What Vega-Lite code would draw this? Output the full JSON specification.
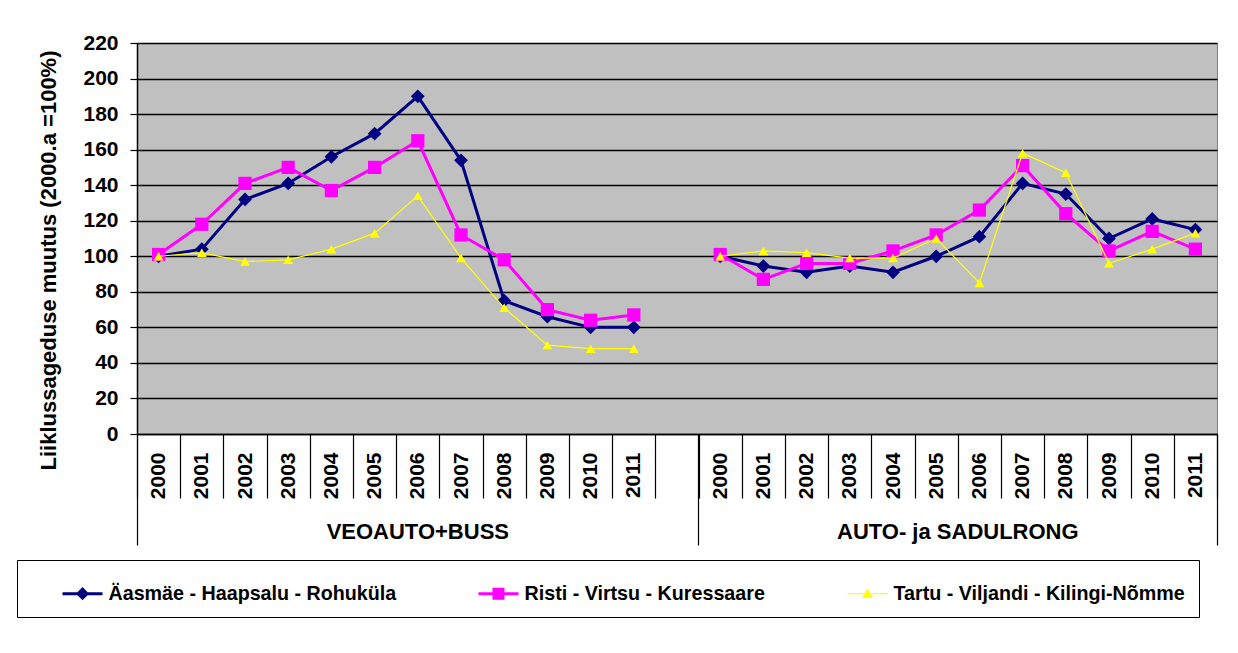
{
  "$schema": "https://vega.github.io/schema/vega-lite/v6.json",
  "width": 1080,
  "height": 391,
  "autosize": {"type": "none"},
  "padding": {"left": 137, "top": 43, "right": 21, "bottom": 219},
  "background": "white",
  "config": {
    "font": "Liberation Sans",
    "view": {"fill": "#C0C0C0", "stroke": "#808080", "strokeWidth": 1},
    "axis": {"labelFont": "Liberation Sans", "titleFont": "Liberation Sans", "labelColor": "black", "titleColor": "black", "labelFontWeight": "bold", "titleFontWeight": "bold"},
    "legend": {
      "title": null, "orient": "none", "legendX": -120, "legendY": 517,
      "direction": "horizontal", "columns": 3, "columnPadding": 50,
      "padding": 13.5, "strokeColor": "black", "strokeWidth": 1,
      "symbolSize": 1600, "symbolOffset": 32, "labelOffset": 6, "symbolStrokeWidth": 0, "symbolOpacity": 1,
      "labelFont": "Liberation Sans", "labelFontSize": 19.7, "labelFontWeight": "bold", "labelColor": "black", "labelLimit": 1000
    }
  },
  "data": {
    "values": [
      {"category": "VEOAUTO+BUSS|2000", "section": "VEOAUTO+BUSS", "route": "Äasmäe - Haapsalu - Rohuküla", "value": 100},
      {"category": "VEOAUTO+BUSS|2001", "section": "VEOAUTO+BUSS", "route": "Äasmäe - Haapsalu - Rohuküla", "value": 104},
      {"category": "VEOAUTO+BUSS|2002", "section": "VEOAUTO+BUSS", "route": "Äasmäe - Haapsalu - Rohuküla", "value": 132},
      {"category": "VEOAUTO+BUSS|2003", "section": "VEOAUTO+BUSS", "route": "Äasmäe - Haapsalu - Rohuküla", "value": 141},
      {"category": "VEOAUTO+BUSS|2004", "section": "VEOAUTO+BUSS", "route": "Äasmäe - Haapsalu - Rohuküla", "value": 156},
      {"category": "VEOAUTO+BUSS|2005", "section": "VEOAUTO+BUSS", "route": "Äasmäe - Haapsalu - Rohuküla", "value": 169},
      {"category": "VEOAUTO+BUSS|2006", "section": "VEOAUTO+BUSS", "route": "Äasmäe - Haapsalu - Rohuküla", "value": 190},
      {"category": "VEOAUTO+BUSS|2007", "section": "VEOAUTO+BUSS", "route": "Äasmäe - Haapsalu - Rohuküla", "value": 154},
      {"category": "VEOAUTO+BUSS|2008", "section": "VEOAUTO+BUSS", "route": "Äasmäe - Haapsalu - Rohuküla", "value": 75},
      {"category": "VEOAUTO+BUSS|2009", "section": "VEOAUTO+BUSS", "route": "Äasmäe - Haapsalu - Rohuküla", "value": 66},
      {"category": "VEOAUTO+BUSS|2010", "section": "VEOAUTO+BUSS", "route": "Äasmäe - Haapsalu - Rohuküla", "value": 60},
      {"category": "VEOAUTO+BUSS|2011", "section": "VEOAUTO+BUSS", "route": "Äasmäe - Haapsalu - Rohuküla", "value": 60},
      {"category": "AUTO- ja SADULRONG|2000", "section": "AUTO- ja SADULRONG", "route": "Äasmäe - Haapsalu - Rohuküla", "value": 100},
      {"category": "AUTO- ja SADULRONG|2001", "section": "AUTO- ja SADULRONG", "route": "Äasmäe - Haapsalu - Rohuküla", "value": 94.5},
      {"category": "AUTO- ja SADULRONG|2002", "section": "AUTO- ja SADULRONG", "route": "Äasmäe - Haapsalu - Rohuküla", "value": 91},
      {"category": "AUTO- ja SADULRONG|2003", "section": "AUTO- ja SADULRONG", "route": "Äasmäe - Haapsalu - Rohuküla", "value": 94.5},
      {"category": "AUTO- ja SADULRONG|2004", "section": "AUTO- ja SADULRONG", "route": "Äasmäe - Haapsalu - Rohuküla", "value": 91},
      {"category": "AUTO- ja SADULRONG|2005", "section": "AUTO- ja SADULRONG", "route": "Äasmäe - Haapsalu - Rohuküla", "value": 100},
      {"category": "AUTO- ja SADULRONG|2006", "section": "AUTO- ja SADULRONG", "route": "Äasmäe - Haapsalu - Rohuküla", "value": 111},
      {"category": "AUTO- ja SADULRONG|2007", "section": "AUTO- ja SADULRONG", "route": "Äasmäe - Haapsalu - Rohuküla", "value": 141},
      {"category": "AUTO- ja SADULRONG|2008", "section": "AUTO- ja SADULRONG", "route": "Äasmäe - Haapsalu - Rohuküla", "value": 135},
      {"category": "AUTO- ja SADULRONG|2009", "section": "AUTO- ja SADULRONG", "route": "Äasmäe - Haapsalu - Rohuküla", "value": 110},
      {"category": "AUTO- ja SADULRONG|2010", "section": "AUTO- ja SADULRONG", "route": "Äasmäe - Haapsalu - Rohuküla", "value": 121},
      {"category": "AUTO- ja SADULRONG|2011", "section": "AUTO- ja SADULRONG", "route": "Äasmäe - Haapsalu - Rohuküla", "value": 115},
      {"category": "VEOAUTO+BUSS|2000", "section": "VEOAUTO+BUSS", "route": "Risti - Virtsu - Kuressaare", "value": 101},
      {"category": "VEOAUTO+BUSS|2001", "section": "VEOAUTO+BUSS", "route": "Risti - Virtsu - Kuressaare", "value": 118},
      {"category": "VEOAUTO+BUSS|2002", "section": "VEOAUTO+BUSS", "route": "Risti - Virtsu - Kuressaare", "value": 141},
      {"category": "VEOAUTO+BUSS|2003", "section": "VEOAUTO+BUSS", "route": "Risti - Virtsu - Kuressaare", "value": 150},
      {"category": "VEOAUTO+BUSS|2004", "section": "VEOAUTO+BUSS", "route": "Risti - Virtsu - Kuressaare", "value": 137},
      {"category": "VEOAUTO+BUSS|2005", "section": "VEOAUTO+BUSS", "route": "Risti - Virtsu - Kuressaare", "value": 150},
      {"category": "VEOAUTO+BUSS|2006", "section": "VEOAUTO+BUSS", "route": "Risti - Virtsu - Kuressaare", "value": 165},
      {"category": "VEOAUTO+BUSS|2007", "section": "VEOAUTO+BUSS", "route": "Risti - Virtsu - Kuressaare", "value": 112},
      {"category": "VEOAUTO+BUSS|2008", "section": "VEOAUTO+BUSS", "route": "Risti - Virtsu - Kuressaare", "value": 98},
      {"category": "VEOAUTO+BUSS|2009", "section": "VEOAUTO+BUSS", "route": "Risti - Virtsu - Kuressaare", "value": 70},
      {"category": "VEOAUTO+BUSS|2010", "section": "VEOAUTO+BUSS", "route": "Risti - Virtsu - Kuressaare", "value": 64},
      {"category": "VEOAUTO+BUSS|2011", "section": "VEOAUTO+BUSS", "route": "Risti - Virtsu - Kuressaare", "value": 67},
      {"category": "AUTO- ja SADULRONG|2000", "section": "AUTO- ja SADULRONG", "route": "Risti - Virtsu - Kuressaare", "value": 101},
      {"category": "AUTO- ja SADULRONG|2001", "section": "AUTO- ja SADULRONG", "route": "Risti - Virtsu - Kuressaare", "value": 87},
      {"category": "AUTO- ja SADULRONG|2002", "section": "AUTO- ja SADULRONG", "route": "Risti - Virtsu - Kuressaare", "value": 96},
      {"category": "AUTO- ja SADULRONG|2003", "section": "AUTO- ja SADULRONG", "route": "Risti - Virtsu - Kuressaare", "value": 96},
      {"category": "AUTO- ja SADULRONG|2004", "section": "AUTO- ja SADULRONG", "route": "Risti - Virtsu - Kuressaare", "value": 103},
      {"category": "AUTO- ja SADULRONG|2005", "section": "AUTO- ja SADULRONG", "route": "Risti - Virtsu - Kuressaare", "value": 112},
      {"category": "AUTO- ja SADULRONG|2006", "section": "AUTO- ja SADULRONG", "route": "Risti - Virtsu - Kuressaare", "value": 126},
      {"category": "AUTO- ja SADULRONG|2007", "section": "AUTO- ja SADULRONG", "route": "Risti - Virtsu - Kuressaare", "value": 151},
      {"category": "AUTO- ja SADULRONG|2008", "section": "AUTO- ja SADULRONG", "route": "Risti - Virtsu - Kuressaare", "value": 124},
      {"category": "AUTO- ja SADULRONG|2009", "section": "AUTO- ja SADULRONG", "route": "Risti - Virtsu - Kuressaare", "value": 103},
      {"category": "AUTO- ja SADULRONG|2010", "section": "AUTO- ja SADULRONG", "route": "Risti - Virtsu - Kuressaare", "value": 114},
      {"category": "AUTO- ja SADULRONG|2011", "section": "AUTO- ja SADULRONG", "route": "Risti - Virtsu - Kuressaare", "value": 104},
      {"category": "VEOAUTO+BUSS|2000", "section": "VEOAUTO+BUSS", "route": "Tartu - Viljandi - Kilingi-Nõmme", "value": 100},
      {"category": "VEOAUTO+BUSS|2001", "section": "VEOAUTO+BUSS", "route": "Tartu - Viljandi - Kilingi-Nõmme", "value": 102},
      {"category": "VEOAUTO+BUSS|2002", "section": "VEOAUTO+BUSS", "route": "Tartu - Viljandi - Kilingi-Nõmme", "value": 97},
      {"category": "VEOAUTO+BUSS|2003", "section": "VEOAUTO+BUSS", "route": "Tartu - Viljandi - Kilingi-Nõmme", "value": 98},
      {"category": "VEOAUTO+BUSS|2004", "section": "VEOAUTO+BUSS", "route": "Tartu - Viljandi - Kilingi-Nõmme", "value": 104},
      {"category": "VEOAUTO+BUSS|2005", "section": "VEOAUTO+BUSS", "route": "Tartu - Viljandi - Kilingi-Nõmme", "value": 113},
      {"category": "VEOAUTO+BUSS|2006", "section": "VEOAUTO+BUSS", "route": "Tartu - Viljandi - Kilingi-Nõmme", "value": 134},
      {"category": "VEOAUTO+BUSS|2007", "section": "VEOAUTO+BUSS", "route": "Tartu - Viljandi - Kilingi-Nõmme", "value": 99},
      {"category": "VEOAUTO+BUSS|2008", "section": "VEOAUTO+BUSS", "route": "Tartu - Viljandi - Kilingi-Nõmme", "value": 71},
      {"category": "VEOAUTO+BUSS|2009", "section": "VEOAUTO+BUSS", "route": "Tartu - Viljandi - Kilingi-Nõmme", "value": 50},
      {"category": "VEOAUTO+BUSS|2010", "section": "VEOAUTO+BUSS", "route": "Tartu - Viljandi - Kilingi-Nõmme", "value": 48},
      {"category": "VEOAUTO+BUSS|2011", "section": "VEOAUTO+BUSS", "route": "Tartu - Viljandi - Kilingi-Nõmme", "value": 48},
      {"category": "AUTO- ja SADULRONG|2000", "section": "AUTO- ja SADULRONG", "route": "Tartu - Viljandi - Kilingi-Nõmme", "value": 100},
      {"category": "AUTO- ja SADULRONG|2001", "section": "AUTO- ja SADULRONG", "route": "Tartu - Viljandi - Kilingi-Nõmme", "value": 103},
      {"category": "AUTO- ja SADULRONG|2002", "section": "AUTO- ja SADULRONG", "route": "Tartu - Viljandi - Kilingi-Nõmme", "value": 102},
      {"category": "AUTO- ja SADULRONG|2003", "section": "AUTO- ja SADULRONG", "route": "Tartu - Viljandi - Kilingi-Nõmme", "value": 99},
      {"category": "AUTO- ja SADULRONG|2004", "section": "AUTO- ja SADULRONG", "route": "Tartu - Viljandi - Kilingi-Nõmme", "value": 99},
      {"category": "AUTO- ja SADULRONG|2005", "section": "AUTO- ja SADULRONG", "route": "Tartu - Viljandi - Kilingi-Nõmme", "value": 110},
      {"category": "AUTO- ja SADULRONG|2006", "section": "AUTO- ja SADULRONG", "route": "Tartu - Viljandi - Kilingi-Nõmme", "value": 85},
      {"category": "AUTO- ja SADULRONG|2007", "section": "AUTO- ja SADULRONG", "route": "Tartu - Viljandi - Kilingi-Nõmme", "value": 158},
      {"category": "AUTO- ja SADULRONG|2008", "section": "AUTO- ja SADULRONG", "route": "Tartu - Viljandi - Kilingi-Nõmme", "value": 147},
      {"category": "AUTO- ja SADULRONG|2009", "section": "AUTO- ja SADULRONG", "route": "Tartu - Viljandi - Kilingi-Nõmme", "value": 96},
      {"category": "AUTO- ja SADULRONG|2010", "section": "AUTO- ja SADULRONG", "route": "Tartu - Viljandi - Kilingi-Nõmme", "value": 104},
      {"category": "AUTO- ja SADULRONG|2011", "section": "AUTO- ja SADULRONG", "route": "Tartu - Viljandi - Kilingi-Nõmme", "value": 113}
    ]
  },
  "resolve": {"axis": {"x": "independent"}},
  "encoding": {
    "y": {
      "field": "value", "type": "quantitative",
      "scale": {"domain": [0, 220], "nice": false},
      "axis": {
        "title": "Liiklussageduse muutus (2000.a =100%)",
        "titleFontSize": 22, "titleAngle": 270, "titleAlign": "center", "titleBaseline": "alphabetic",
        "titleX": -82, "titleY": 217,
        "values": [0, 20, 40, 60, 80, 100, 120, 140, 160, 180, 200, 220],
        "labelOverlap": false,
        "grid": true, "gridColor": "black", "gridWidth": 1.3,
        "domainColor": "black", "domainWidth": 1.5,
        "tickColor": "black", "tickSize": 7, "tickWidth": 1.2,
        "labelFontSize": 21, "labelPadding": 12
      }
    }
  },
  "layer": [
    {
      "transform": [{"filter": "datum.route === 'Äasmäe - Haapsalu - Rohuküla'"}],
      "mark": {"type": "line", "color": "#000080", "strokeWidth": 3},
      "encoding": {
        "x": {
          "field": "category", "type": "nominal", "bandPosition": 0.5,
          "scale": {"type": "band", "paddingInner": 0, "paddingOuter": 0, "domain": [
            "VEOAUTO+BUSS|2000", "VEOAUTO+BUSS|2001", "VEOAUTO+BUSS|2002", "VEOAUTO+BUSS|2003", "VEOAUTO+BUSS|2004", "VEOAUTO+BUSS|2005", "VEOAUTO+BUSS|2006", "VEOAUTO+BUSS|2007", "VEOAUTO+BUSS|2008", "VEOAUTO+BUSS|2009", "VEOAUTO+BUSS|2010", "VEOAUTO+BUSS|2011", "VEOAUTO+BUSS|",
            "AUTO- ja SADULRONG|2000", "AUTO- ja SADULRONG|2001", "AUTO- ja SADULRONG|2002", "AUTO- ja SADULRONG|2003", "AUTO- ja SADULRONG|2004", "AUTO- ja SADULRONG|2005", "AUTO- ja SADULRONG|2006", "AUTO- ja SADULRONG|2007", "AUTO- ja SADULRONG|2008", "AUTO- ja SADULRONG|2009", "AUTO- ja SADULRONG|2010", "AUTO- ja SADULRONG|2011"
          ]},
          "axis": {
            "orient": "bottom", "title": null,
            "tickBand": "extent",
            "tickColor": "black", "tickWidth": 1.2, "tickSize": 64,
            "domainColor": "black", "domainWidth": 1.5,
            "labelAngle": -90, "labelFontSize": 21, "labelPadding": -46,
            "labelOverlap": false, "labelLimit": 1000,
            "labelExpr": "indexof(datum.label, '|') >= 0 ? split(datum.label, '|')[1] : ''"
          }
        },
        "detail": {"field": "section", "type": "nominal"}
      }
    },
    {
      "transform": [{"filter": "datum.route === 'Äasmäe - Haapsalu - Rohuküla'"}],
      "mark": {"type": "point", "shape": "diamond", "size": 190, "filled": true, "opacity": 1, "color": "#000080"},
      "encoding": {
        "x": {
          "field": "category", "type": "nominal", "bandPosition": 0.5,
          "axis": {
            "orient": "bottom", "title": null,
            "values": ["VEOAUTO+BUSS|2000", "AUTO- ja SADULRONG|2000"],
            "bandPosition": 0,
            "ticks": true, "tickSize": 111, "tickColor": "black", "tickWidth": 1.2, "domain": false,
            "labelAngle": 0, "labelAlign": "center", "labelBaseline": "alphabetic",
            "labelFontSize": 22, "labelPadding": -6.7, "labelLimit": 1000, "labelOverlap": false,
            "labelOffset": 259.2,
            "labelExpr": "datum.value === 'VEOAUTO+BUSS|2000' ? 'VEOAUTO+BUSS' : ''"
          }
        }
      }
    },
    {
      "transform": [{"filter": "datum.route === 'Risti - Virtsu - Kuressaare'"}],
      "mark": {"type": "line", "color": "#FF00FF", "strokeWidth": 3},
      "encoding": {
        "x": {"field": "category", "type": "nominal", "bandPosition": 0.5, "axis": null},
        "detail": {"field": "section", "type": "nominal"}
      }
    },
    {
      "transform": [{"filter": "datum.route === 'Risti - Virtsu - Kuressaare'"}],
      "mark": {"type": "point", "shape": "square", "size": 175, "filled": true, "opacity": 1, "color": "#FF00FF"},
      "encoding": {
        "x": {"field": "category", "type": "nominal", "bandPosition": 0.5, "axis": null}
      }
    },
    {
      "transform": [{"filter": "datum.route === 'Tartu - Viljandi - Kilingi-Nõmme'"}],
      "mark": {"type": "line", "color": "#FFFF00", "strokeWidth": 1.2},
      "encoding": {
        "x": {"field": "category", "type": "nominal", "bandPosition": 0.5, "axis": null},
        "detail": {"field": "section", "type": "nominal"}
      }
    },
    {
      "transform": [{"filter": "datum.route === 'Tartu - Viljandi - Kilingi-Nõmme'"}],
      "mark": {"type": "point", "shape": "triangle-up", "size": 95, "filled": true, "opacity": 1, "color": "#FFFF00"},
      "encoding": {
        "x": {"field": "category", "type": "nominal", "bandPosition": 0.5, "axis": null}
      }
    },
    {
      "transform": [{"filter": "false"}],
      "mark": {"type": "point", "filled": true, "opacity": 1},
      "encoding": {
        "x": {
          "field": "category", "type": "nominal", "bandPosition": 0.5,
          "axis": {
            "orient": "bottom", "title": null,
            "values": ["AUTO- ja SADULRONG|2011"],
            "bandPosition": 1,
            "ticks": true, "tickSize": 111, "tickColor": "black", "tickWidth": 1.2, "domain": false,
            "labelAngle": 0, "labelAlign": "center", "labelBaseline": "alphabetic",
            "labelFontSize": 22, "labelPadding": -6.7, "labelLimit": 1000, "labelOverlap": false,
            "labelOffset": -237.6,
            "labelExpr": "'AUTO- ja SADULRONG'"
          }
        },
        "color": {
          "field": "route", "type": "nominal",
          "scale": {"domain": ["Äasmäe - Haapsalu - Rohuküla", "Risti - Virtsu - Kuressaare", "Tartu - Viljandi - Kilingi-Nõmme"], "range": ["#000080", "#FF00FF", "#FFFF00"]},
          "legend": {}
        },
        "shape": {
          "field": "route", "type": "nominal",
          "scale": {"domain": ["Äasmäe - Haapsalu - Rohuküla", "Risti - Virtsu - Kuressaare", "Tartu - Viljandi - Kilingi-Nõmme"], "range": [
            "M-1,-0.075H1V0.075H-1Z M0,-0.33L0.33,0L0,0.33L-0.33,0Z",
            "M-1,-0.075H1V0.075H-1Z M-0.3,-0.3H0.3V0.3H-0.3Z",
            "M-1,-0.035H1V0.035H-1Z M0,-0.25L0.28,0.22L-0.28,0.22Z"
          ]},
          "legend": {}
        }
      }
    }
  ]
}
